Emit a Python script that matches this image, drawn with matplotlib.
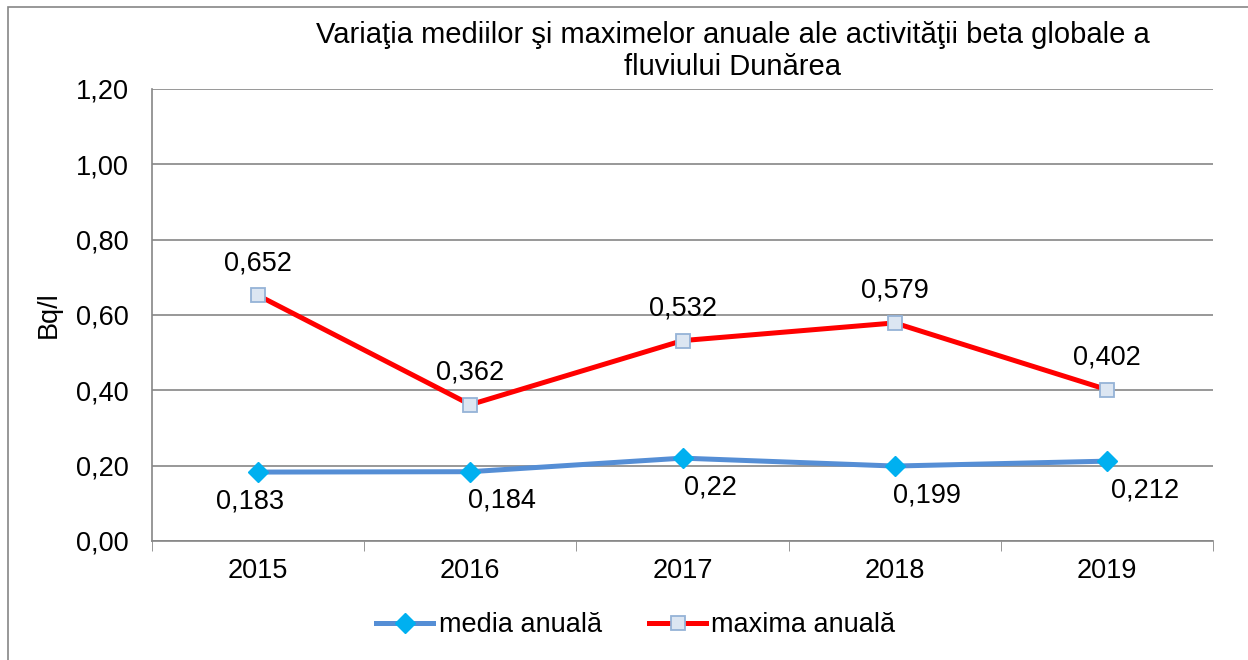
import matplotlib.pyplot as plt
from matplotlib.patches import Rectangle

# date
years = ['2015', '2016', '2017', '2018', '2019']
media_anuala = [0.183, 0.184, 0.22, 0.199, 0.212]
maxima_anuala = [0.652, 0.362, 0.532, 0.579, 0.402]
media_labels = ['0,183', '0,184', '0,22', '0,199', '0,212']
maxima_labels = ['0,652', '0,362', '0,532', '0,579', '0,402']
yticks = [0.0, 0.2, 0.4, 0.6, 0.8, 1.0, 1.2]

plt.rcParams['font.family'] = ['Liberation Sans', 'DejaVu Sans']
FS = 19.5

fig = plt.figure(figsize=(12.48, 6.6), dpi=100)
ax = fig.add_axes([152 / 1248, 1 - 541 / 660, 1061 / 1248, 452 / 660])

# chenarul exterior
fig.patches.append(Rectangle((8 / 1248, -0.1), 1.2, 1 - 7 / 660 + 0.1,
                             transform=fig.transFigure, fill=False,
                             edgecolor='#868686', linewidth=1.2))

x = list(range(len(years)))
ax.plot(x, media_anuala, color='#558ED5', linewidth=3.6, marker='D',
        markersize=10, markerfacecolor='#00B0F0', markeredgecolor='#00B0F0',
        label='media anuală', zorder=3)
ax.plot(x, maxima_anuala, color='#FF0000', linewidth=3.6, marker='s',
        markersize=10.5, markerfacecolor='#DCE6F2', markeredgecolor='#95B3D7',
        markeredgewidth=1.3, label='maxima anuală', zorder=3)

# etichete de date
media_ha = ['center', 'left', 'left', 'left', 'left']
media_dx = [-6, -2, 1, -1, 3]
for i, (v, t) in enumerate(zip(media_anuala, media_labels)):
    ax.annotate(t, (i, v), xytext=(media_dx[i], -21), textcoords='offset points',
                ha=media_ha[i], va='center', fontsize=FS)
for i, (v, t) in enumerate(zip(maxima_anuala, maxima_labels)):
    ax.annotate(t, (i, v), xytext=(0, 23), textcoords='offset points',
                ha='center', va='center', fontsize=FS)

ax.set_xlim(-0.5, 4.5)
ax.set_ylim(0, 1.2)
ax.set_yticks(yticks)
ax.set_yticklabels([f'{v:.2f}'.replace('.', ',') for v in yticks], fontsize=FS)
ax.set_xticks(x)
ax.set_xticklabels(years, fontsize=FS)
ax.set_xticks([i - 0.5 for i in range(len(years) + 1)], minor=True)
ax.tick_params(axis='x', which='major', length=0, pad=12)
ax.tick_params(axis='x', which='minor', length=7, color='#868686', direction='out')
ax.tick_params(axis='y', length=0, pad=17)

ax.grid(axis='y', color='#868686', linewidth=1.2)
ax.set_axisbelow(True)
for s in ['top', 'right']:
    ax.spines[s].set_visible(False)
for s in ['left', 'bottom']:
    ax.spines[s].set_color('#868686')
    ax.spines[s].set_linewidth(1.2)

ax.set_ylabel('Bq/l', fontsize=FS, labelpad=10)

fig.text(733 / 1248, 1 - 35 / 660, 'Variaţia mediilor şi maximelor anuale ale activităţii beta globale a',
         ha='center', va='center', fontsize=21)
fig.text(733 / 1248, 1 - 67 / 660, 'fluviului Dunărea', ha='center', va='center', fontsize=21)

fig.legend(loc='center', bbox_to_anchor=(636 / 1248, 1 - 625 / 660), ncol=2,
           frameon=False, fontsize=FS, handlelength=2.1, handletextpad=0.2,
           columnspacing=1.75)

fig.savefig('out.png', dpi=100)
